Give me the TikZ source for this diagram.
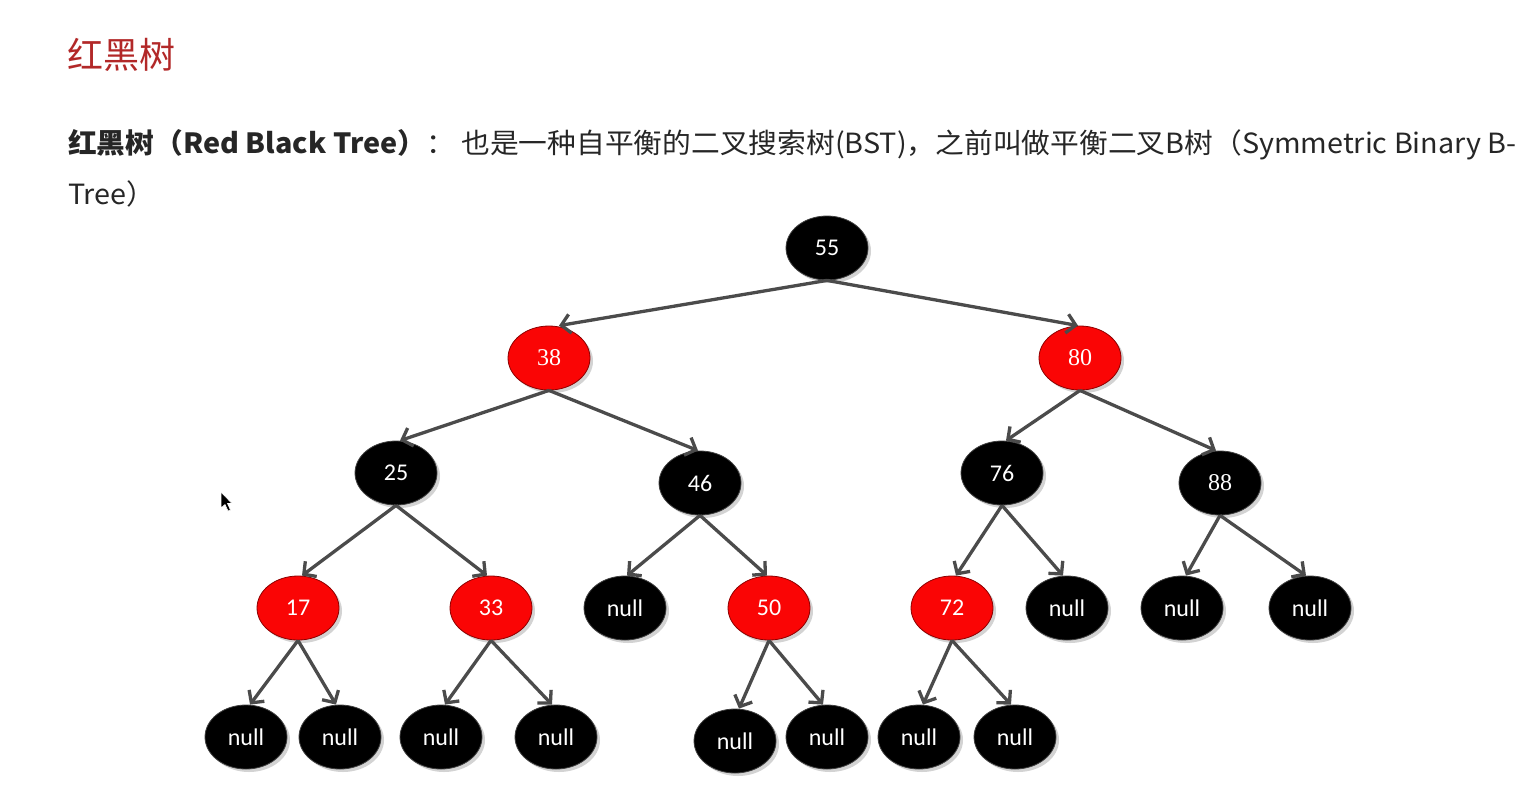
\documentclass[tikz,border=0pt]{standalone}
\usepackage{fontspec}
\usetikzlibrary{shapes.geometric,arrows.meta,shadows}
\setmainfont{Carlito}
\newfontfamily\cjk{Noto Sans CJK SC}
\newfontfamily\numserif{Liberation Serif}
\definecolor{titlered}{RGB}{178,40,40}
\definecolor{nodered}{RGB}{250,5,5}
\definecolor{edgegray}{RGB}{75,75,75}
\definecolor{textgray}{RGB}{38,38,38}
\tikzset{
  tnode/.style={ellipse, minimum width=82pt, minimum height=64pt, inner sep=0pt,
    text=white, font=\fontsize{24}{24}\selectfont,
    drop shadow={opacity=0.35, shadow xshift=3pt, shadow yshift=-3pt}},
  blk/.style={tnode, fill=black, draw=black!75, line width=0.8pt},
  rd/.style={tnode, fill=nodered, draw=red!55!black, line width=0.8pt},
  edge/.style={draw=edgegray, line width=3.3pt,
    -{Straight Barb[length=9pt, width=19pt, line width=3.3pt]}},
}
\begin{document}
\begin{tikzpicture}[x=1pt, y=-1pt]
\useasboundingbox (0,0) rectangle (1521,796);
% heading and text
\node[anchor=base west, inner sep=0pt, text=titlered, font=\cjk\fontsize{36}{36}\selectfont] (title) at (67,68) {红黑树};
\node[anchor=base west, inner sep=0pt, text=textgray, font=\cjk\fontsize{27}{27}\selectfont] (line1) at (68,153)
  {\scalebox{1.065}[1.03]{{\bfseries 红黑树（Red Black Tree）}： 也是一种自平衡的二叉搜索树(BST)，之前叫做平衡二叉B树（Symmetric Binary B-}};
\node[anchor=base west, inner sep=0pt, text=textgray, font=\cjk\fontsize{27}{27}\selectfont] (line2) at (68,204) {\scalebox{1.065}[1.03]{Tree）}};
% tree nodes
\node[blk] (n55) at (827,248) {55};
\node[rd]  (n38) at (549,358) {\numserif 38};
\node[rd]  (n80) at (1080,358) {\numserif 80};
\node[blk] (n25) at (396,473) {25};
\node[blk] (n46) at (700,483) {46};
\node[blk] (n76) at (1002,473) {76};
\node[blk] (n88) at (1220,483) {\numserif 88};
\node[rd]  (n17) at (298,608) {17};
\node[rd]  (n33) at (491,608) {33};
\node[blk] (n46l) at (625,608) {null};
\node[rd]  (n50) at (769,608) {50};
\node[rd]  (n72) at (952,608) {72};
\node[blk] (n76r) at (1067,608) {null};
\node[blk] (n88l) at (1182,608) {null};
\node[blk] (n88r) at (1310,608) {null};
\node[blk] (n17l) at (246,737) {null};
\node[blk] (n17r) at (340,737) {null};
\node[blk] (n33l) at (441,737) {null};
\node[blk] (n33r) at (556,737) {null};
\node[blk] (n50l) at (735,741) {null};
\node[blk] (n50r) at (827,737) {null};
\node[blk] (n72l) at (919,737) {null};
\node[blk] (n72r) at (1015,737) {null};
% edges
\draw[edge] (n55.south) -- ([xshift=10pt]n38.north);
\draw[edge] (n55.south) -- ([xshift=-2pt]n80.north);
\draw[edge] (n38.south) -- ([xshift=4pt]n25.north);
\draw[edge] (n38.south) -- ([xshift=-2pt]n46.north);
\draw[edge] (n80.south) -- ([xshift=4pt]n76.north);
\draw[edge] (n80.south) -- ([xshift=-4pt]n88.north);
\draw[edge] (n25.south) -- ([xshift=4pt]n17.north);
\draw[edge] (n25.south) -- ([xshift=-4pt]n33.north);
\draw[edge] (n46.south) -- ([xshift=2pt]n46l.north);
\draw[edge] (n46.south) -- ([xshift=-2pt]n50.north);
\draw[edge] (n76.south) -- ([xshift=4pt]n72.north);
\draw[edge] (n76.south) -- ([xshift=-4pt]n76r.north);
\draw[edge] (n88.south) -- ([xshift=4pt]n88l.north);
\draw[edge] (n88.south) -- ([xshift=-4pt]n88r.north);
\draw[edge] (n17.south) -- ([xshift=4pt]n17l.north);
\draw[edge] (n17.south) -- ([xshift=-4pt]n17r.north);
\draw[edge] (n33.south) -- ([xshift=4pt]n33l.north);
\draw[edge] (n33.south) -- ([xshift=-4pt]n33r.north);
\draw[edge] (n50.south) -- ([xshift=4pt]n50l.north);
\draw[edge] (n50.south) -- ([xshift=-4pt]n50r.north);
\draw[edge] (n72.south) -- ([xshift=4pt]n72l.north);
\draw[edge] (n72.south) -- ([xshift=-4pt]n72r.north);
% mouse cursor
\fill[black, draw=white, line width=0.6pt] (221,492) -- (221,508) -- (225,504.5) -- (228,511) -- (230.5,510) -- (227.5,503.5) -- (232,503.5) -- cycle;
\end{tikzpicture}
\end{document}
